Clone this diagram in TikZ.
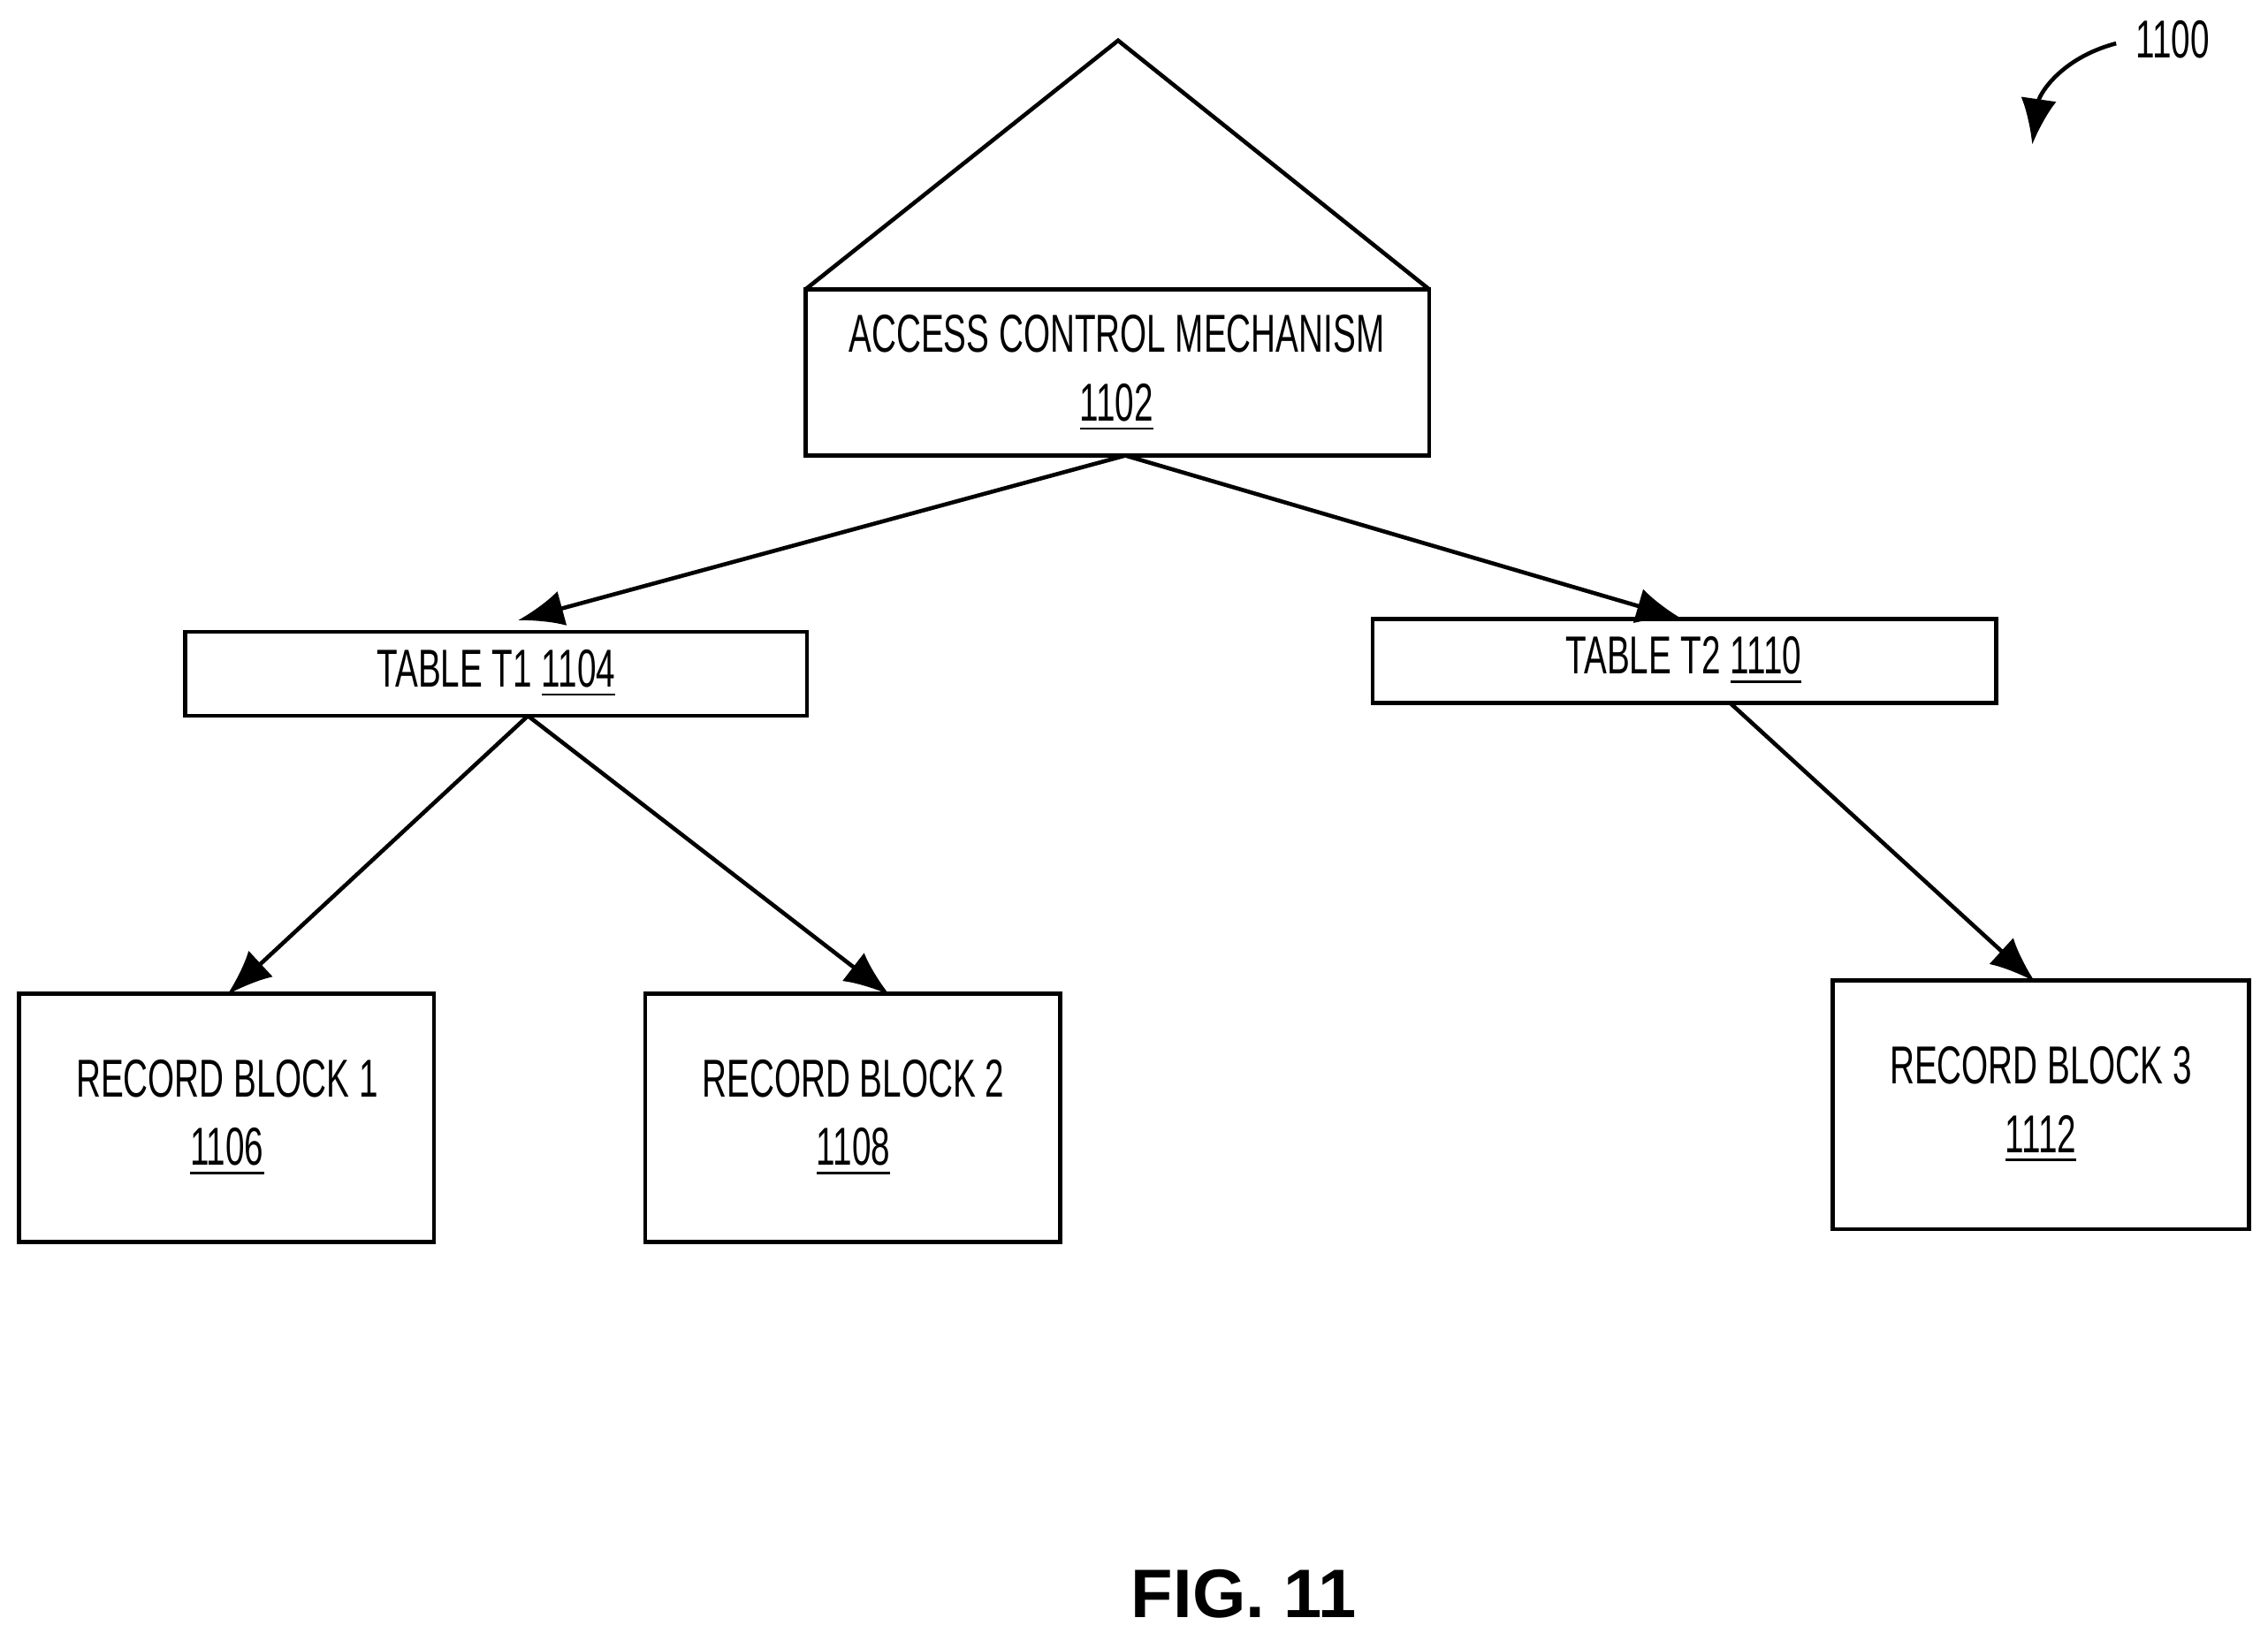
\documentclass[tikz,border=0pt]{standalone}
\usepackage{fontspec}
\setmainfont[FakeStretch=0.64]{Liberation Sans}
\newfontfamily\figfont{Liberation Sans}
\usetikzlibrary{arrows.meta}
\begin{document}
\begin{tikzpicture}[x=0.01cm,y=-0.01cm,
  box/.style={draw,line width=0.8pt},
  lbl/.style={font=\fontsize{10.5}{11.5}\selectfont,align=center},
  arr/.style={line width=0.8pt,-{Latex[length=9pt,width=7pt]}}]
\useasboundingbox (0,0) rectangle (1568,1129);
\draw[line width=0.8pt] (557,200) -- (773,28) -- (988,200);
\draw[box] (557,200) rectangle (988,315);
\node[lbl] (acm) at (772,258) {ACCESS CONTROL MECHANISM\\[2pt]\underline{1102}};
\coordinate (acmb) at (778,315);
\draw[box] (128,437) rectangle (558,495);
\node[lbl] (t1) at (343,466) {TABLE T1 \underline{1104}};
\coordinate (t1t) at (358,429);
\coordinate (t1b) at (365,495);
\draw[box] (949,428) rectangle (1380,486);
\node[lbl] (t2) at (1164,457) {TABLE T2 \underline{1110}};
\coordinate (t2t) at (1163,428);
\coordinate (t2b) at (1196,486);
\draw[box] (13,687) rectangle (300,859);
\node[lbl] (r1) at (157,773) {RECORD BLOCK 1\\[2pt]\underline{1106}};
\coordinate (r1t) at (157,688);
\draw[box] (446,687) rectangle (733,859);
\node[lbl] (r2) at (590,773) {RECORD BLOCK 2\\[2pt]\underline{1108}};
\coordinate (r2t) at (615,688);
\draw[box] (1267,678) rectangle (1555,850);
\node[lbl] (r3) at (1411,764) {RECORD BLOCK 3\\[2pt]\underline{1112}};
\coordinate (r3t) at (1407,679);
\draw[arr] (acmb) -- (t1t);
\draw[arr] (acmb) -- (t2t);
\draw[arr] (t1b) -- (r1t);
\draw[arr] (t1b) -- (r2t);
\draw[arr] (t2b) -- (r3t);
\node[lbl] (ref) at (1502,27) {1100};
\coordinate (refa) at (1463,30);
\coordinate (refb) at (1405,100);
\draw[arr] (refa) .. controls (1425,40) and (1410,65) .. (refb);
\node[font=\figfont\bfseries\fontsize{13.5}{16}\selectfont] (fig) at (860,1102) {FIG. 11};
\end{tikzpicture}
\end{document}
